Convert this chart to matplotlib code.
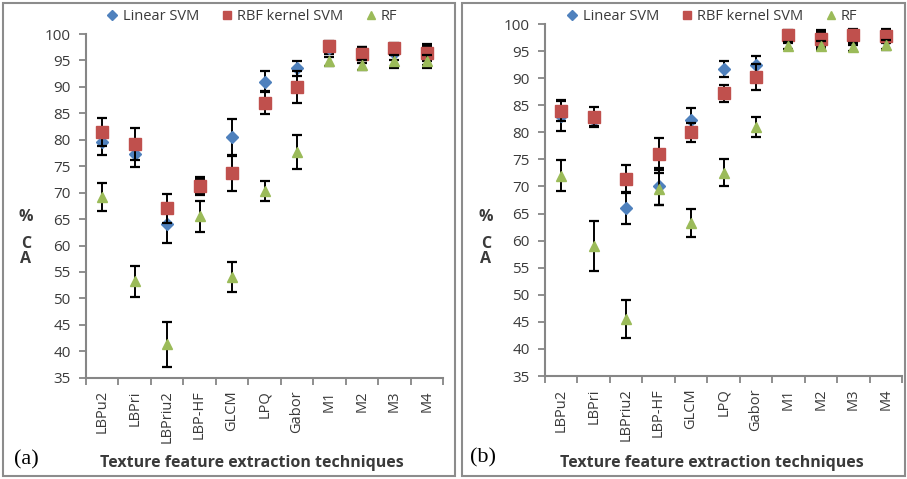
import matplotlib
matplotlib.use("Agg")
import matplotlib.pyplot as plt
from matplotlib.patches import Rectangle
import numpy as np

categories = ["LBPu2", "LBPri", "LBPriu2", "LBP-HF", "GLCM", "LPQ", "Gabor", "M1", "M2", "M3", "M4"]
series_names = ["Linear SVM", "RBF kernel SVM", "RF"]

# Panel (a)
a_linear = [79.5, 77.3, 64.0, 71.0, 80.5, 91.0, 93.5, 97.3, 96.0, 96.5, 96.0]
a_linear_err = [2.3, 2.5, 3.5, 1.5, 3.4, 2.0, 1.4, 1.0, 1.5, 1.5, 1.8]
a_rbf = [81.5, 79.2, 67.0, 71.3, 73.7, 87.0, 90.0, 97.8, 96.3, 97.3, 96.5]
a_rbf_err = [2.6, 3.0, 2.7, 1.6, 3.3, 2.2, 3.0, 0.9, 1.2, 1.0, 1.6]
a_rf = [69.2, 53.2, 41.3, 65.5, 54.0, 70.3, 77.7, 94.8, 94.1, 94.8, 94.8]
a_rf_err = [2.6, 3.0, 4.3, 3.0, 2.8, 1.9, 3.2, 0.8, 1.0, 1.3, 1.3]

# Panel (b)
b_linear = [83.0, 82.2, 66.0, 70.0, 82.3, 91.7, 92.5, 97.5, 97.0, 97.3, 97.0]
b_linear_err = [2.7, 1.2, 2.9, 3.5, 2.2, 1.4, 1.5, 1.0, 1.5, 1.2, 1.8]
b_rbf = [84.0, 82.9, 71.4, 76.0, 80.0, 87.2, 90.3, 98.0, 97.3, 98.0, 97.7]
b_rbf_err = [2.0, 1.8, 2.6, 3.0, 1.8, 1.6, 2.4, 0.8, 1.5, 1.0, 1.3]
b_rf = [72.0, 59.0, 45.5, 69.5, 63.3, 72.5, 81.0, 96.0, 96.0, 95.7, 96.2]
b_rf_err = [2.9, 4.7, 3.5, 3.0, 2.6, 2.5, 1.8, 0.7, 0.8, 0.7, 0.8]

yticks = list(range(35, 101, 5))

colors = ["#4F81BD", "#C0504D", "#9BBB59"]
markers = ["D", "s", "^"]
msizes = [6, 8, 7]
txt = "#3a3a3a"

plt.rcParams['font.family'] = ['Open Sans', 'DejaVu Sans']

W, H = 907, 479
fig = plt.figure(figsize=(W / 100, H / 100), dpi=100)

def px_rect(x0, y0, x1, y1):
    return [x0 / W, 1 - y1 / H, (x1 - x0) / W, (y1 - y0) / H]

# frames
for (x0, x1) in [(3, 455), (462, 905)]:
    fig.patches.append(Rectangle((x0 / W, 3 / H), (x1 - x0) / W, (476 - 3) / H,
                                 transform=fig.transFigure, fill=False,
                                 edgecolor="#8c8c8c", linewidth=1.5))

def draw_panel(rect, data, label, label_pos, ylab_x, legend_y, xlabel_x):
    ax = fig.add_axes(px_rect(*rect))
    x = np.arange(len(categories))
    handles = []
    for i, (vals, errs) in enumerate(data):
        ax.errorbar(x, vals, yerr=errs, fmt="none", ecolor="black",
                    elinewidth=1.4, capsize=3.5, capthick=1.6, zorder=2 + i)
        h = ax.plot(x, vals, linestyle="none", marker=markers[i], markersize=msizes[i],
                    color=colors[i], markeredgecolor=colors[i], zorder=2.5 + i,
                    label=series_names[i])[0]
        handles.append(h)
    ax.set_xlim(-0.5, len(categories) - 0.5)
    ax.set_ylim(35, 100)
    ax.set_yticks(yticks)
    ax.set_yticklabels([str(v) for v in yticks], fontsize=11, color=txt)
    ax.set_xticks(np.arange(-0.5, len(categories), 1.0))
    ax.set_xticklabels([])
    ax.set_xticks(x, minor=True)
    ax.set_xticklabels(categories, minor=True, rotation=90, fontsize=10.5, color=txt)
    ax.tick_params(axis="x", which="minor", length=0, pad=9)
    ax.tick_params(axis="x", which="major", length=5, width=1.3, color="#868686", direction="out")
    ax.tick_params(axis="y", length=5, width=1.3, color="#868686", direction="out", pad=6)
    for s in ["top", "right"]:
        ax.spines[s].set_visible(False)
    for s in ["left", "bottom"]:
        ax.spines[s].set_color("#868686")
        ax.spines[s].set_linewidth(1.5)
    ax.set_facecolor("none")
    fig.legend(handles=handles, loc="center", bbox_to_anchor=(xlabel_x / W, 1 - legend_y / H),
               ncol=3, frameon=False, fontsize=10.5, handlelength=0.8, handletextpad=0.3,
               columnspacing=1.5, markerscale=0.8, labelcolor=txt)
    # y label letters
    for s, yy in [("%", 217), ("C", 244), ("A", 259)]:
        fig.text(ylab_x / W, 1 - yy / H, s, fontsize=11.5, fontweight="bold",
                 ha="center", va="center", color=txt)
    fig.text(xlabel_x / W, 1 - 463 / H, "Texture feature extraction techniques", fontsize=11.5,
             fontweight="bold", ha="center", va="center", color=txt)
    fig.text(label_pos[0] / W, 1 - label_pos[1] / H, label, fontsize=16,
             family="Liberation Serif", ha="left", va="center", color="black")
    return ax

draw_panel((86, 34, 443, 377.7),
           [(a_linear, a_linear_err), (a_rbf, a_rbf_err), (a_rf, a_rf_err)],
           "(a)", (14, 460), 26, 17, 252)
draw_panel((545, 24, 902, 376),
           [(b_linear, b_linear_err), (b_rbf, b_rbf_err), (b_rf, b_rf_err)],
           "(b)", (470, 458), 486, 17, 712)

fig.savefig("out.png", dpi=100)
